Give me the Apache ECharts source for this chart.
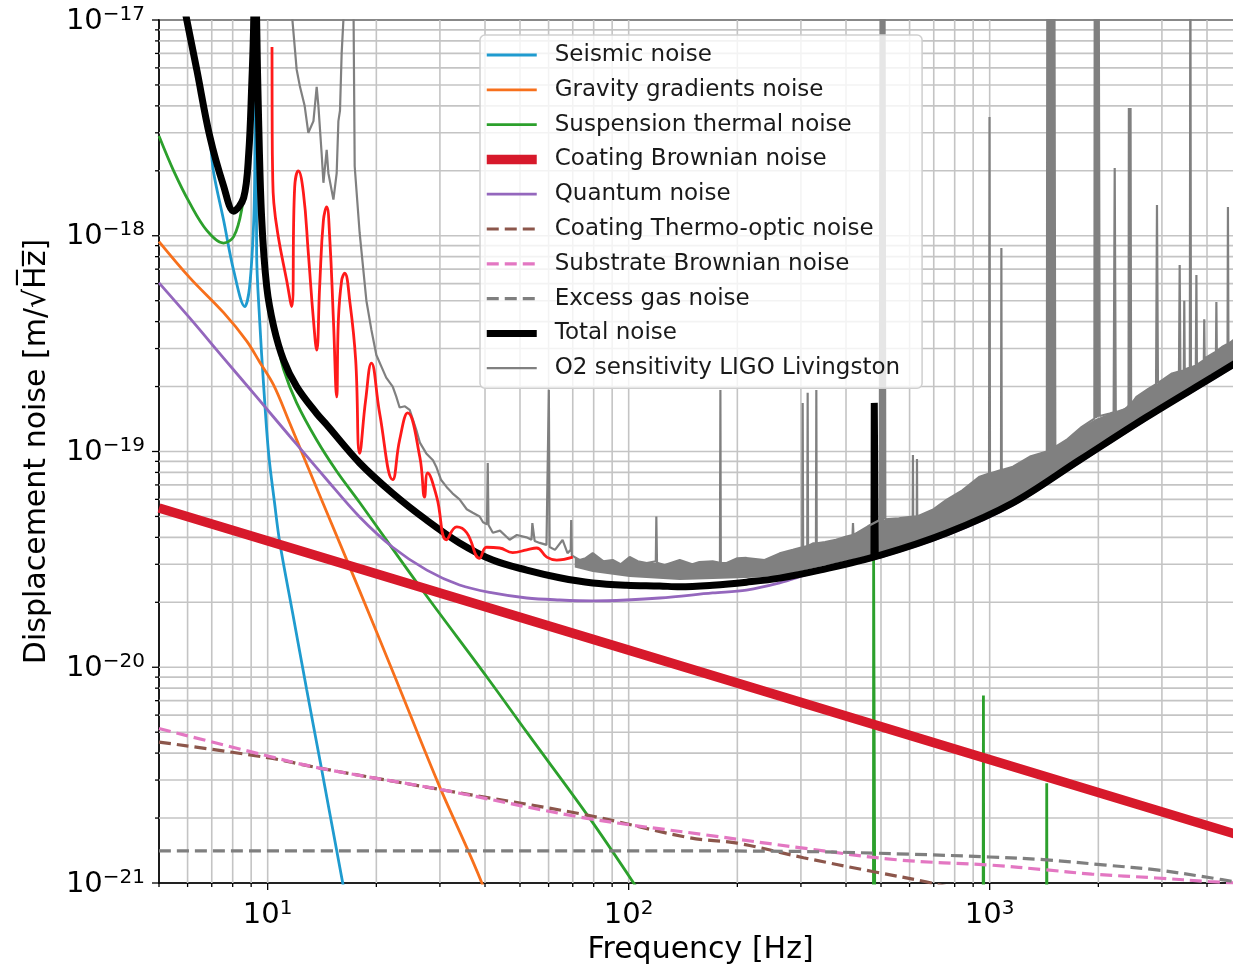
<!DOCTYPE html>
<html>
<head>
<meta charset="utf-8">
<title>Displacement noise budget</title>
<script src="https://cdn.jsdelivr.net/npm/echarts@6.0.0/dist/echarts.min.js"></script>
<style>
html, body { margin: 0; padding: 0; background: #fff; }
#main { width: 1233px; height: 969px; }
</style>
</head>
<body>
<div id="main"></div>
<script>
// all curves: [frequency Hz, displacement noise m/sqrt(Hz)]
var seismicNoise = [
    [5, 4.5e-17], [5.97, 9.8e-18], [6.36, 5.7e-18], [6.91, 2.8e-18], [7.09, 1.95e-18],
    [7.55, 1.18e-18], [8.05, 6.9e-19], [8.64, 4.7e-19], [8.91, 5.8e-19], [9.15, 1.18e-18],
    [9.22, 2.6e-18], [9.27, 3e-17], [9.32, 8.3e-19], [9.5, 4.07e-19], [9.75, 2.0e-19],
    [10.06, 9.8e-20], [10.45, 5.77e-20], [10.8, 3.8e-20], [11.73, 1.78e-20], [12.82, 7.9e-21],
    [14.02, 3.56e-21], [16.14, 1.0e-21], [16.9, 6.7e-22]
];
var gravityNoise = [
    [5, 9.4e-19], [6.08, 6.4e-19], [7.55, 4.4e-19], [8.75, 3.25e-19], [9.5, 2.6e-19],
    [10.39, 2.03e-19], [11.5, 1.36e-19], [12.82, 8.75e-20], [14.11, 5.96e-20], [17.98, 2.26e-20],
    [22.6, 8.9e-21], [29.8, 2.85e-21], [39.2, 1.0e-21], [44, 5.5e-22]
];
var suspensionNoise = [
    [5, 2.9e-18], [5.49, 2.0e-18], [6.08, 1.42e-18], [6.78, 1.06e-18], [7.55, 9.25e-19],
    [8.05, 9.9e-19], [8.47, 1.32e-18], [8.86, 2.45e-18], [9.03, 4.8e-18], [9.15, 9.5e-18],
    [9.23, 4e-17], [9.32, 9.5e-18], [9.44, 3.3e-18], [9.625, 1.15e-18], [9.94, 5.5e-19],
    [10.13, 4.5e-19], [10.59, 3.3e-19], [11.07, 2.4e-19], [12.03, 1.68e-19], [13.67, 1.13e-19],
    [15.53, 8.1e-20], [17.98, 5.8e-20], [26.4, 2.36e-20], [40.9, 8.8e-21], [52.2, 5.0e-21],
    [77.4, 2.03e-21], [103.2, 1.0e-21], [130, 5.5e-22]
];
// violin modes of the suspension
var suspensionPeaks = [
    [476, 2e-23], [477, 3.14e-20], [483, 3.14e-20], [484, 2e-23],
    [955, 3e-24], [961, 7.4e-21], [967, 3e-24],
    [1430, 1.5e-24], [1439, 2.9e-21], [1448, 1.5e-24]
];
var coatingBrownian = [[5, 5.47e-20], [100, 1.2e-20], [5000, 1.65e-21]];
var quantumNoise = [
    [5, 6.05e-19], [6.08, 4.16e-19], [7.55, 2.71e-19], [9.32, 1.79e-19], [11.5, 1.18e-19],
    [14.39, 7.6e-20], [17.98, 4.97e-20], [22.2, 3.6e-20], [27.6, 2.82e-20], [34.0, 2.405e-20],
    [42.0, 2.21e-20], [52.2, 2.094e-20], [64.4, 2.05e-20], [79.5, 2.03e-20], [98.7, 2.05e-20],
    [121.8, 2.094e-20], [170.9, 2.21e-20], [212, 2.28e-20], [262, 2.46e-20], [323, 2.735e-20],
    [496, 3.24e-20], [760, 4.1e-20], [1158, 5.65e-20], [1775, 8.94e-20], [2722, 1.415e-19],
    [4147, 2.168e-19], [5000, 2.627e-19]
];
var coatingThermoOptic = [
    [5, 4.5e-21], [10, 3.81e-21], [13.9, 3.41e-21], [30.5, 2.7e-21], [76, 2.07e-21],
    [147.6, 1.62e-21], [200, 1.53e-21], [305, 1.31e-21], [474, 1.13e-21], [690, 1.0e-21],
    [1000, 8.5e-22]
];
var substrateBrownian = [
    [5, 5.2e-21], [10, 3.88e-21], [13.9, 3.41e-21], [30.5, 2.7e-21], [76, 2.0e-21],
    [164, 1.67e-21], [305, 1.45e-21], [556, 1.28e-21], [1006, 1.21e-21], [1439, 1.15e-21],
    [1917, 1.10e-21], [2901, 1.055e-21], [4044, 1.016e-21], [5000, 9.95e-22]
];
var excessGas = [
    [5, 1.41e-21], [100, 1.41e-21], [300, 1.4e-21], [600, 1.36e-21], [1000, 1.32e-21],
    [1440, 1.28e-21], [2100, 1.21e-21], [2900, 1.15e-21], [4050, 1.06e-21], [5000, 1.0e-21]
];
var totalNoise = [
    [5, 4.6e-17], [5.97, 1.0e-17], [6.36, 5.9e-18], [6.91, 2.9e-18], [7.55, 1.7e-18],
    [8.05, 1.3e-18], [8.58, 1.5e-18], [8.86, 2.4e-18], [9.03, 4.9e-18], [9.15, 1.0e-17],
    [9.23, 5e-17], [9.32, 1.0e-17], [9.44, 3.4e-18], [9.625, 1.2e-18], [9.94, 5.8e-19],
    [10.39, 3.8e-19], [11.07, 2.65e-19], [12.03, 2.0e-19], [13.67, 1.5e-19], [14.57, 1.33e-19],
    [17.98, 8.85e-20], [22.2, 6.4e-20], [27.6, 4.8e-20], [34.0, 3.77e-20], [42.0, 3.14e-20],
    [52.2, 2.82e-20], [64.4, 2.6e-20], [79.5, 2.46e-20], [98.7, 2.4e-20], [121.8, 2.38e-20],
    [138.5, 2.36e-20], [170.9, 2.4e-20], [212, 2.48e-20], [262, 2.59e-20], [338, 2.82e-20],
    [496, 3.3e-20], [760, 4.19e-20], [1158, 5.77e-20], [1775, 9.13e-20], [2722, 1.445e-19],
    [4147, 2.215e-19], [5000, 2.68e-19]
];
var totalPeak = [[478, 3.3e-20], [479, 1.68e-19], [481, 1.68e-19], [482, 3.3e-20]];
// thin red trace (not in the legend)
var redTrace = [
    [10.28, 7.5e-18], [10.29, 3.4e-18], [10.32, 2.0e-18], [10.40, 1.42e-18], [10.70, 9.9e-19],
    [11.29, 6.2e-19], [11.65, 4.7e-19], [11.88, 1.68e-18], [12.16, 2.0e-18], [12.56, 1.58e-18],
    [12.96, 8.3e-19], [13.39, 4.07e-19], [13.67, 2.95e-19], [13.93, 5.8e-19], [14.27, 1.18e-18],
    [14.57, 1.36e-18], [14.85, 9.9e-19], [15.21, 4.07e-19], [15.53, 1.79e-19], [15.7, 4.07e-19],
    [16.03, 6.2e-19], [16.34, 6.7e-19], [16.9, 4.9e-19], [17.53, 2.66e-19], [17.98, 9.8e-20],
    [18.68, 1.73e-19], [19.38, 2.57e-19], [20.42, 1.51e-19], [22.2, 7.4e-20], [23.2, 1.13e-19],
    [24.43, 1.51e-19], [26.4, 9.4e-20], [27.2, 6.15e-20], [27.75, 7.95e-20], [29.4, 6.15e-20],
    [31.3, 3.9e-20], [33.4, 4.47e-20], [35.6, 4.2e-20], [38.65, 3.2e-20], [40.4, 3.6e-20],
    [43.9, 3.57e-20], [47.7, 3.4e-20], [52.2, 3.5e-20], [55.6, 3.57e-20], [59.3, 3.24e-20],
    [63.2, 3.14e-20], [70.0, 3.24e-20]
];
// O2 measured sensitivity, with its lines
var o2Trace = [
    [11.6, 1.2e-17], [12.03, 5.9e-18], [12.29, 4.9e-18], [12.66, 4.0e-18], [12.96, 3.0e-18],
    [13.39, 3.4e-18], [13.67, 4.9e-18], [13.82, 4.0e-18], [14.11, 2.4e-18], [14.27, 1.76e-18],
    [14.57, 2.5e-18], [14.73, 1.95e-18], [15.21, 1.47e-18], [15.53, 1.95e-18], [15.7, 3.4e-18],
    [15.86, 3.8e-18], [16.03, 7.0e-18], [16.21, 1.0e-17], [16.8, 3.0e-17], [17.3, 1.0e-17],
    [17.42, 2.1e-18], [17.98, 1.03e-18], [18.77, 5.0e-19], [19.38, 3.66e-19], [20.0, 2.8e-19],
    [20.6, 2.5e-19], [21.3, 2.2e-19], [22.2, 2.0e-19], [22.7, 1.8e-19], [23.2, 1.6e-19],
    [24.0, 1.62e-19], [24.74, 1.56e-19], [25.8, 1.26e-19], [26.4, 1.1e-19], [27.5, 9.8e-20],
    [28.7, 9.1e-20], [29.3, 8.5e-20], [30.2, 7.4e-20], [31.3, 6.85e-20], [32.5, 6.4e-20],
    [34.0, 6.0e-20], [35.6, 5.4e-20], [37.0, 5.2e-20], [38.65, 5.0e-20], [39.5, 4.7e-20],
    [40.5, 4.6e-20], [40.7, 8.85e-20], [40.9, 4.56e-20], [42.05, 4.2e-20], [44.0, 4.3e-20],
    [46.8, 3.9e-20], [49.0, 4.1e-20], [52.1, 4.0e-20], [53.8, 3.9e-20], [54.1, 4.66e-20],
    [54.9, 3.85e-20], [56.7, 3.77e-20], [59.2, 3.69e-20], [59.9, 3.7e-20], [60.1, 1.93e-19],
    [60.4, 3.61e-20], [62.5, 3.5e-20], [65.6, 3.89e-20], [67.7, 3.38e-20], [69.1, 3.5e-20],
    [69.3, 4.81e-20], [69.6, 3.3e-20], [70.9, 3.24e-20], [73.1, 3.14e-20], [76, 3.2e-20],
    [79.5, 3.38e-20], [85, 3.1e-20], [90.3, 3.14e-20], [95, 3.0e-20], [100.6, 3.24e-20],
    [106, 3.1e-20], [112.2, 3.04e-20], [118.9, 3.1e-20], [119.3, 4.99e-20], [119.8, 3.05e-20],
    [125.8, 2.98e-20], [138.5, 3.14e-20], [150, 3.0e-20], [157, 3.07e-20], [170.9, 3.1e-20],
    [179.0, 3.05e-20], [179.5, 1.93e-19], [180.0, 3.05e-20], [186.8, 3.04e-20], [200, 3.2e-20],
    [211.8, 3.21e-20], [238, 3.14e-20], [262, 3.37e-20], [285, 3.5e-20], [302.5, 3.6e-20],
    [303.4, 1.68e-19], [304.3, 3.6e-20], [312.4, 3.65e-20], [313.2, 1.87e-19], [314.0, 3.65e-20],
    [324, 3.75e-20], [330.2, 3.75e-20], [331, 1.93e-19], [331.8, 3.75e-20], [350, 3.8e-20],
    [375, 3.9e-20], [401, 4.03e-20], [417, 4.1e-20], [418.2, 4.66e-20], [419.4, 4.1e-20],
    [430, 4.2e-20], [460, 4.5e-20], [496, 4.81e-20],
    [498, 4.8e-20], [499, 3e-17], [502, 4.8e-20], [503, 3e-17], [506, 4.8e-20], [507, 3e-17],
    [510, 4.85e-20], [511, 3e-17], [514, 4.85e-20],
    [560, 4.9e-20], [612, 4.99e-20], [613, 9.63e-20],
    [614, 4.99e-20], [628, 5.0e-20], [629, 9.23e-20], [630, 5.0e-20], [700, 5.4e-20],
    [759, 5.96e-20], [840, 6.6e-20], [938, 7.64e-20], [996, 7.9e-20], [999, 3.55e-18],
    [1002, 7.9e-20], [1075, 8.2e-20], [1077.5, 8.78e-19], [1080, 8.2e-20], [1160, 8.5e-20],
    [1300, 9.5e-20],
    [1440, 1.0e-19], [1445, 3e-17], [1457, 1.0e-19], [1458, 3e-17], [1470, 1.02e-19],
    [1471, 3e-17], [1483, 1.02e-19], [1484, 3e-17], [1496, 1.03e-19], [1497, 3e-17],
    [1509, 1.04e-19], [1510, 3e-17], [1520, 1.05e-19],
    [1632, 1.13e-19], [1800, 1.3e-19],
    [1950, 1.42e-19], [1955, 3e-17], [1970, 1.43e-19], [1971, 3e-17], [1986, 1.44e-19],
    [1987, 3e-17], [2002, 1.45e-19], [2003, 3e-17], [2018, 1.46e-19],
    [2150, 1.5e-19], [2205, 1.52e-19], [2220, 2.06e-18], [2235, 1.52e-19],
    [2340, 1.56e-19],
    [2425, 1.6e-19], [2430, 3.91e-18], [2442, 1.62e-19], [2443, 3.91e-18], [2455, 1.64e-19],
    [2456, 3.91e-18], [2465, 1.65e-19],
    [2550, 1.79e-19], [2750, 1.95e-19], [2890, 2.05e-19], [2907, 1.39e-18], [2925, 2.08e-19],
    [3020, 2.15e-19], [3200, 2.3e-19], [3345, 2.35e-19], [3360, 7.32e-19], [3375, 2.35e-19],
    [3450, 2.38e-19], [3460, 5.0e-19], [3470, 2.4e-19], [3585, 2.45e-19], [3597, 3e-17],
    [3610, 2.45e-19], [3725, 2.5e-19], [3738, 6.58e-19], [3750, 2.52e-19], [3920, 2.65e-19],
    [3930, 4.1e-19], [3940, 2.7e-19], [4155, 2.85e-19], [4235, 2.9e-19], [4246, 4.93e-19],
    [4258, 2.92e-19], [4400, 3.05e-19], [4560, 3.15e-19], [4571, 1.36e-18], [4585, 3.15e-19],
    [4800, 3.35e-19], [5000, 3.5e-19]
];
// dense noisy part of the O2 trace: upper and lower edge
var o2BandTop = [
    [70.9, 3.24e-20], [73.1, 3.14e-20], [76, 3.2e-20], [79.5, 3.38e-20], [85, 3.1e-20],
    [90.3, 3.14e-20], [95, 3.0e-20], [100.6, 3.24e-20], [106, 3.1e-20], [112.2, 3.04e-20],
    [119.8, 3.05e-20], [125.8, 2.98e-20], [138.5, 3.14e-20], [150, 3.0e-20], [157, 3.07e-20],
    [170.9, 3.1e-20], [186.8, 3.04e-20], [200, 3.2e-20], [211.8, 3.21e-20], [238, 3.14e-20],
    [262, 3.37e-20], [285, 3.5e-20], [302.5, 3.6e-20], [324, 3.75e-20], [350, 3.8e-20],
    [375, 3.9e-20], [401, 4.03e-20], [430, 4.2e-20], [460, 4.5e-20], [496, 4.81e-20],
    [560, 4.9e-20], [628, 5.0e-20], [700, 5.4e-20], [759, 5.96e-20], [840, 6.6e-20],
    [938, 7.64e-20], [1000, 7.9e-20], [1077, 8.2e-20], [1160, 8.5e-20], [1300, 9.5e-20],
    [1435, 1.005e-19], [1632, 1.13e-19], [1800, 1.3e-19], [1975, 1.42e-19], [2150, 1.5e-19],
    [2340, 1.56e-19], [2550, 1.79e-19], [2750, 1.95e-19], [3020, 2.15e-19], [3200, 2.3e-19],
    [3480, 2.4e-19], [3738, 2.5e-19], [3950, 2.7e-19], [4155, 2.85e-19], [4400, 3.05e-19],
    [4800, 3.35e-19], [5000, 3.5e-19]
];
var o2BandBottom = [
    [70.9, 2.9e-20], [79.5, 2.76e-20], [100.6, 2.62e-20], [138.5, 2.54e-20], [211.8, 2.59e-20],
    [262, 2.65e-20], [323, 2.88e-20], [496, 3.38e-20], [759, 4.28e-20], [1160, 5.9e-20],
    [1775, 9.33e-20], [2715, 1.476e-19], [4155, 2.263e-19], [5000, 2.713e-19]
];

var legendNames = [
    'Seismic noise', 'Gravity gradients noise', 'Suspension thermal noise',
    'Coating Brownian noise', 'Quantum noise', 'Coating Thermo-optic noise',
    'Substrate Brownian noise', 'Excess gas noise', 'Total noise',
    'O2 sensitivity LIGO Livingston'
];

// the y axis is drawn in units of 1e-21 m/sqrt(Hz)
var SCALE = 1e21;
var X_MIN = 5, X_MAX = 5000, Y_MIN = 1, Y_MAX = 1e4;
var FONT = 'DejaVu Sans';
var GRID_COLOR = '#c4c4c4';

function toAxis(points) {
    return points.map(function (p) { return [p[0], p[1] * SCALE]; });
}

function isDecade(v) {
    var e = Math.log10(v);
    return Math.abs(e - Math.round(e)) < 1e-9;
}

// 10^n labels, offset shifts the exponent back to metres
function powerLabel(value, offset) {
    if (!isDecade(value)) return '';
    var exp = Math.round(Math.log10(value)) + offset;
    var txt = exp < 0 ? '\u2212' + (-exp) : String(exp);
    return '{b|10}{s|' + txt + '}';
}

var labelRich = {
    b: { fontFamily: FONT, fontSize: 29, color: '#000', lineHeight: 31, verticalAlign: 'bottom' },
    s: { fontFamily: FONT, fontSize: 20, color: '#000', lineHeight: 20, verticalAlign: 'top' }
};

// grid line positions 1..9 per decade
var xGridValues = [];
var yGridValues = [];
[1, 10, 100, 1000].forEach(function (d) {
    for (var k = 1; k <= 9; k++) {
        var v = k * d;
        if (v >= X_MIN && v <= X_MAX) xGridValues.push(v);
        if (v >= Y_MIN && v <= Y_MAX) yGridValues.push(v);
    }
});
yGridValues.push(Y_MAX);

function renderVGrid(params, api) {
    var v = api.value(0);
    var p0 = api.coord([v, Y_MIN]);
    var p1 = api.coord([v, Y_MAX]);
    var children = [];
    if (v > X_MIN && v < X_MAX) {
        children.push({ type: 'line', shape: { x1: p0[0], y1: p0[1], x2: p1[0], y2: p1[1] },
            style: { stroke: GRID_COLOR, lineWidth: 1.6 } });
    }
    children.push({ type: 'line', shape: { x1: p0[0], y1: p0[1], x2: p0[0], y2: p0[1] + (isDecade(v) ? 7 : 4) },
        style: { stroke: '#000', lineWidth: 1.3 } });
    return { type: 'group', children: children };
}

function renderHGrid(params, api) {
    var v = api.value(1);
    var p0 = api.coord([X_MIN, v]);
    var p1 = api.coord([X_MAX, v]);
    var children = [];
    if (v > Y_MIN && v < Y_MAX) {
        children.push({ type: 'line', shape: { x1: p0[0], y1: p0[1], x2: p1[0], y2: p1[1] },
            style: { stroke: GRID_COLOR, lineWidth: 1.6 } });
    }
    children.push({ type: 'line', shape: { x1: p0[0], y1: p0[1], x2: p0[0] - (isDecade(v) ? 7 : 4), y2: p0[1] },
        style: { stroke: '#000', lineWidth: 1.3 } });
    return { type: 'group', children: children };
}

function renderBand(params, api) {
    var pts = [];
    var i;
    for (i = 0; i < o2BandTop.length; i++) {
        pts.push(api.coord([o2BandTop[i][0], o2BandTop[i][1] * SCALE]));
    }
    for (i = o2BandBottom.length - 1; i >= 0; i--) {
        pts.push(api.coord([o2BandBottom[i][0], o2BandBottom[i][1] * SCALE]));
    }
    return { type: 'polygon', shape: { points: pts }, style: { fill: '#808080' } };
}

function lineSeries(name, points, color, width, opts) {
    var s = {
        name: name,
        type: 'line',
        data: toAxis(points),
        symbol: 'none',
        showSymbol: false,
        silent: true,
        lineStyle: { color: color, width: width, type: 'solid' },
        itemStyle: { color: color },
        smooth: 0.35,
        clip: true
    };
    if (opts) {
        for (var k in opts) s[k] = opts[k];
    }
    return s;
}

var myChart = echarts.init(document.getElementById('main'), null, { renderer: 'canvas' });

var option = {
    animation: false,
    backgroundColor: '#fff',
    grid: {
        left: 159, top: 20, width: 1083, height: 863,
        containLabel: false, outerBoundsMode: 'none',
        show: true, borderColor: '#888', borderWidth: 2, backgroundColor: 'rgba(0,0,0,0)'
    },
    legend: {
        data: legendNames,
        orient: 'vertical',
        left: 480, top: 35,
        padding: [7, 22, 7, 2],
        itemGap: 8.8,
        itemWidth: 50,
        itemHeight: 14,
        selectedMode: false,
        backgroundColor: 'rgba(255,255,255,0.8)',
        borderColor: '#cfcfcf',
        borderWidth: 1.5,
        borderRadius: 5,
        itemStyle: { opacity: 0 },
        lineStyle: { width: 'inherit' },
        textStyle: { fontFamily: FONT, fontSize: 23, color: '#1a1a1a', lineHeight: 26, padding: [0, 0, 0, 13] }
    },
    xAxis: {
        type: 'log', logBase: 10, min: X_MIN, max: X_MAX,
        name: 'Frequency [Hz]', nameLocation: 'middle', nameGap: 52,
        nameTextStyle: { fontFamily: FONT, fontSize: 30, color: '#000' },
        axisLine: { onZero: false, lineStyle: { color: '#000', width: 1.6 } },
        axisTick: { show: false },
        splitLine: { show: false },
        axisLabel: {
            margin: 16,
            formatter: function (v) { return powerLabel(v, 0); },
            rich: labelRich
        }
    },
    yAxis: {
        type: 'log', logBase: 10, min: Y_MIN, max: Y_MAX,
        name: 'Displacement noise [m/\u221AH\u0305z\u0305]', nameLocation: 'middle', nameGap: 107, nameRotate: 90,
        nameTextStyle: { fontFamily: FONT, fontSize: 30, color: '#000' },
        axisLine: { onZero: false, lineStyle: { color: '#000', width: 1.6 } },
        axisTick: { show: false },
        splitLine: { show: false },
        axisLabel: {
            margin: 14,
            formatter: function (v) { return powerLabel(v, -21); },
            rich: labelRich
        }
    },
    series: [
        {
            type: 'custom', name: 'xgrid', silent: true, clip: false, z: 1,
            data: xGridValues.map(function (v) { return [v, Y_MIN]; }),
            encode: { x: 0, y: 1 },
            renderItem: renderVGrid
        },
        {
            type: 'custom', name: 'ygrid', silent: true, clip: false, z: 1,
            data: yGridValues.map(function (v) { return [X_MIN, v]; }),
            encode: { x: 0, y: 1 },
            renderItem: renderHGrid
        },
        lineSeries('Seismic noise', seismicNoise, '#1f9bcf', 2.8),
        lineSeries('Gravity gradients noise', gravityNoise, '#f7701c', 2.8),
        lineSeries('Suspension thermal noise', suspensionNoise, '#2ca02c', 2.8),
        lineSeries('Suspension thermal noise', suspensionPeaks, '#2ca02c', 2.8, { smooth: false }),
        lineSeries('Coating Brownian noise', coatingBrownian, '#d7192b', 9.5, { smooth: false }),
        lineSeries('Quantum noise', quantumNoise, '#9467bd', 2.8),
        lineSeries('Coating Thermo-optic noise', coatingThermoOptic, '#8c564b', 3.2),
        lineSeries('Substrate Brownian noise', substrateBrownian, '#e377c2', 3.2),
        lineSeries('Excess gas noise', excessGas, '#7f7f7f', 3.2),
        lineSeries('Total noise', totalNoise, '#000000', 7),
        lineSeries('Total noise', totalPeak, '#000000', 7, { smooth: false }),
        lineSeries('O2 sensitivity LIGO Livingston', o2Trace, '#808080', 2.2, { smooth: false }),
        {
            type: 'custom', name: 'O2 sensitivity LIGO Livingston', silent: true, clip: true,
            data: [[o2BandTop[0][0], o2BandTop[0][1] * SCALE]],
            encode: { x: 0, y: 1 },
            renderItem: renderBand
        },
        lineSeries('red trace', redTrace, '#ff1a1a', 2.8, { smooth: 0.45 })
    ]
};

// dashed styles for the thermo-optic, substrate and gas curves
option.series.forEach(function (s) {
    if (s.name === 'Coating Thermo-optic noise' || s.name === 'Substrate Brownian noise' || s.name === 'Excess gas noise') {
        s.lineStyle.type = [12, 6];
    }
});

myChart.setOption(option);
</script>
</body>
</html>
